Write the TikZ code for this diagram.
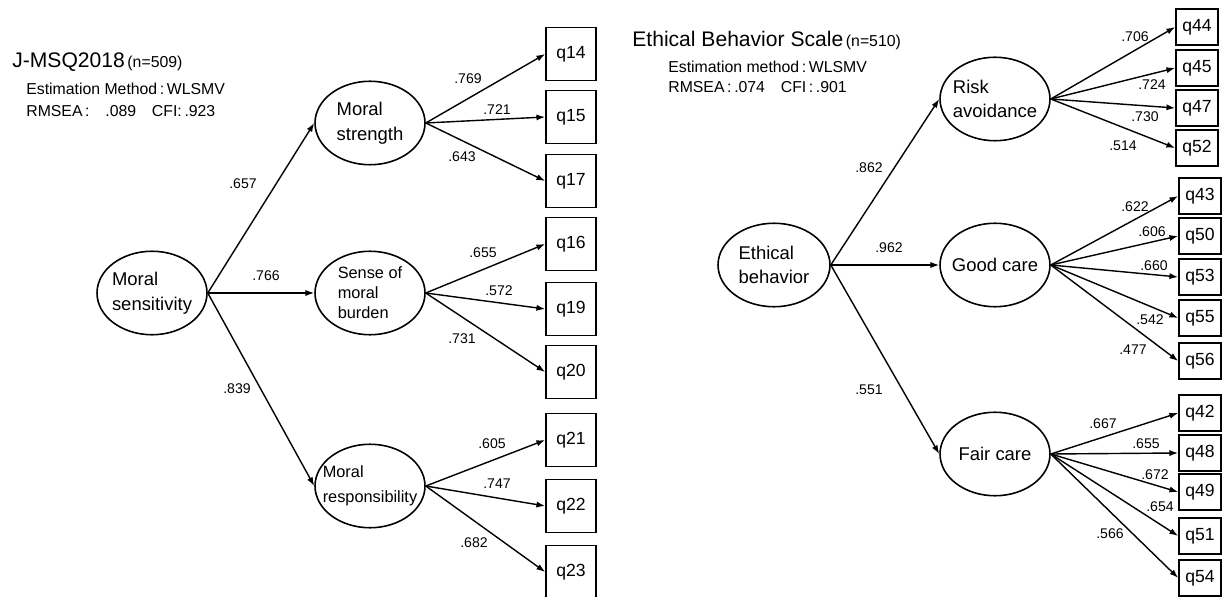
\documentclass[tikz,border=0pt]{standalone}
\usepackage{fontspec}
\setmainfont{Liberation Sans}
\usetikzlibrary{shapes.geometric,arrows.meta}

\begin{document}
\begin{tikzpicture}[x=0.02cm,y=-0.02cm,
		latent/.style={draw,ellipse,line width=0.9pt,inner sep=0pt,minimum width=2.2cm,minimum height=1.67cm},
		lvname/.style={align=left,inner sep=0pt,font=\fontsize{10.5}{14}\selectfont},
		item/.style={draw,line width=0.9pt,inner sep=0pt,minimum width=1cm,minimum height=1.06cm,font=\fontsize{10}{12}\selectfont},
		smallitem/.style={item,minimum width=0.84cm,minimum height=0.72cm},
		coef/.style={inner sep=0pt,font=\fontsize{8}{10}\selectfont},
		info/.style={anchor=base west,inner sep=0pt,font=\fontsize{9}{11}\selectfont},
		loading/.style={line width=0.8pt,-{Latex[length=5pt,width=3.5pt]}}]
	\useasboundingbox (0,0) rectangle (1223,597);

	% J-MSQ2018
	\node[info] (title1) at (12,68) {\fontsize{12}{14}\selectfont J-MSQ2018\fontsize{9}{11}\selectfont\,(n=509)};
	\node[info] (est1) at (26,95) {Estimation Method\,:\,WLSMV};
	\node[info] (fit1) at (26,117) {RMSEA\,:\quad.089\quad CFI:\,.923};

	\node[latent] (msen) at (152,293) {};
	\node[lvname] (msen-t) at (msen) {Moral\\sensitivity};
	\node[latent] (mstr) at (370,123) {};
	\node[lvname] (mstr-t) at (mstr) {Moral\\strength};
	\node[latent] (mbur) at (370,293) {};
	\node[lvname,font=\fontsize{9.3}{11.4}\selectfont] (mbur-t) at (mbur) {Sense of\\moral\\burden};
	\node[latent] (mres) at (370,486) {};
	\node[lvname,font=\fontsize{9.3}{14}\selectfont] (mres-t) at (mres) {Moral\\responsibility};

	\node[item] (q14) at (571,54) {q14};
	\node[item] (q15) at (571,117) {q15};
	\node[item] (q17) at (571,181) {q17};
	\node[item] (q16) at (571,244) {q16};
	\node[item] (q19) at (571,309) {q19};
	\node[item] (q20) at (571,372) {q20};
	\node[item] (q21) at (571,440) {q21};
	\node[item] (q22) at (571,506) {q22};
	\node[item] (q23) at (571,572) {q23};

	\draw[loading] (msen.east) -- (mstr.west);
	\draw[loading] (msen.east) -- (mbur.west);
	\draw[loading] (msen.east) -- (mres.west);
	\draw[loading] (mstr.east) -- (q14.west);
	\draw[loading] (mstr.east) -- (q15.west);
	\draw[loading] (mstr.east) -- (q17.west);
	\draw[loading] (mbur.east) -- (q16.west);
	\draw[loading] (mbur.east) -- (q19.west);
	\draw[loading] (mbur.east) -- (q20.west);
	\draw[loading] (mres.east) -- (q21.west);
	\draw[loading] (mres.east) -- (q22.west);
	\draw[loading] (mres.east) -- (q23.west);

	\node[coef] (c-mstr) at (243,184) {.657};
	\node[coef] (c-mbur) at (266,276) {.766};
	\node[coef] (c-mres) at (237,389) {.839};
	\node[coef] (c14) at (468,79) {.769};
	\node[coef] (c15) at (497,110) {.721};
	\node[coef] (c17) at (462,157) {.643};
	\node[coef] (c16) at (483,253) {.655};
	\node[coef] (c19) at (499,291) {.572};
	\node[coef] (c20) at (462,339) {.731};
	\node[coef] (c21) at (492,444) {.605};
	\node[coef] (c22) at (497,484) {.747};
	\node[coef] (c23) at (474,543) {.682};

	% Ethical Behavior Scale
	\node[info] (title2) at (632,47) {\fontsize{12}{14}\selectfont Ethical Behavior Scale\fontsize{9}{11}\selectfont\,(n=510)};
	\node[info] (est2) at (668,73) {Estimation method\,:\,WLSMV};
	\node[info] (fit2) at (668,93) {RMSEA\,:\,.074\quad CFI\,:\,.901};

	\node[latent,minimum width=2.24cm] (eb) at (774,265) {};
	\node[lvname] (eb-t) at (eb) {Ethical\\behavior};
	\node[latent] (risk) at (995,99) {};
	\node[lvname] (risk-t) at (risk) {Risk\\avoidance};
	\node[latent] (good) at (995,265) {};
	\node[lvname] (good-t) at (good) {Good care};
	\node[latent] (fair) at (995,454) {};
	\node[lvname] (fair-t) at (fair) {Fair care};

	\node[smallitem] (q44) at (1197,27) {q44};
	\node[smallitem] (q45) at (1197,68) {q45};
	\node[smallitem] (q47) at (1197,108) {q47};
	\node[smallitem] (q52) at (1197,148) {q52};
	\node[smallitem] (q43) at (1200,196) {q43};
	\node[smallitem] (q50) at (1200,236) {q50};
	\node[smallitem] (q53) at (1200,277) {q53};
	\node[smallitem] (q55) at (1200,318) {q55};
	\node[smallitem] (q56) at (1200,361) {q56};
	\node[smallitem] (q42) at (1200,413) {q42};
	\node[smallitem] (q48) at (1200,453) {q48};
	\node[smallitem] (q49) at (1200,492) {q49};
	\node[smallitem] (q51) at (1200,536) {q51};
	\node[smallitem] (q54) at (1200,578) {q54};

	\draw[loading] (eb.east) -- (risk.west);
	\draw[loading] (eb.east) -- (good.west);
	\draw[loading] (eb.east) -- (fair.west);
	\draw[loading] (risk.east) -- (q44.west);
	\draw[loading] (risk.east) -- (q45.west);
	\draw[loading] (risk.east) -- (q47.west);
	\draw[loading] (risk.east) -- (q52.west);
	\draw[loading] (good.east) -- (q43.west);
	\draw[loading] (good.east) -- (q50.west);
	\draw[loading] (good.east) -- (q53.west);
	\draw[loading] (good.east) -- (q55.west);
	\draw[loading] (good.east) -- (q56.west);
	\draw[loading] (fair.east) -- (q42.west);
	\draw[loading] (fair.east) -- (q48.west);
	\draw[loading] (fair.east) -- (q49.west);
	\draw[loading] (fair.east) -- (q51.west);
	\draw[loading] (fair.east) -- (q54.west);

	\node[coef] (c-risk) at (869,168) {.862};
	\node[coef] (c-good) at (889,248) {.962};
	\node[coef] (c-fair) at (869,390) {.551};
	\node[coef] (c44) at (1135,37) {.706};
	\node[coef] (c45) at (1152,85) {.724};
	\node[coef] (c47) at (1145,117) {.730};
	\node[coef] (c52) at (1123,146) {.514};
	\node[coef] (c43) at (1135,207) {.622};
	\node[coef] (c50) at (1152,232) {.606};
	\node[coef] (c53) at (1154,266) {.660};
	\node[coef] (c55) at (1150,320) {.542};
	\node[coef] (c56) at (1133,350) {.477};
	\node[coef] (c42) at (1103,424) {.667};
	\node[coef] (c48) at (1146,444) {.655};
	\node[coef] (c49) at (1155,475) {.672};
	\node[coef] (c51) at (1160,507) {.654};
	\node[coef] (c54) at (1110,534) {.566};
\end{tikzpicture}
\end{document}
